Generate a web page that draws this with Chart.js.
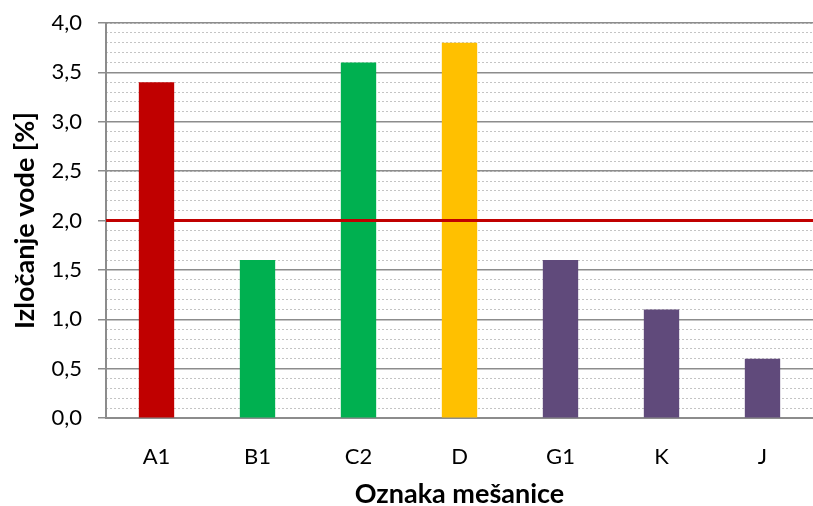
<!DOCTYPE html>
<html>
<head>
<meta charset="utf-8">
<script src="https://cdn.jsdelivr.net/npm/chart.js@4/dist/chart.umd.min.js"></script>
<style>
  html, body { margin: 0; padding: 0; background: #fff; }
  #wrap { width: 813px; height: 506px; }
</style>
</head>
<body>
<div id="wrap"><canvas id="chart"></canvas></div>
<script>
const labels = ['A1', 'B1', 'C2', 'D', 'G1', 'K', 'J'];
const values = [3.4, 1.6, 3.6, 3.8, 1.6, 1.1, 0.6];
const barColors = ['#C00000', '#00B050', '#00B050', '#FFC000', '#604A7B', '#604A7B', '#604A7B'];
const limitValue = 2.0;

// red limit line across the whole plot
const limitLine = {
  id: 'limitLine',
  afterDatasetsDraw(chart) {
    const { ctx, chartArea, scales } = chart;
    const y = scales.y.getPixelForValue(limitValue);
    ctx.save();
    ctx.strokeStyle = '#C00000';
    ctx.lineWidth = 3;
    ctx.beginPath();
    ctx.moveTo(chartArea.left, y);
    ctx.lineTo(chartArea.right, y);
    ctx.stroke();
    ctx.restore();
  }
};

const font = 'Lato';

new Chart(document.getElementById('chart'), {
  type: 'bar',
  data: {
    labels,
    datasets: [{
      data: values,
      backgroundColor: barColors,
      barPercentage: 0.35,
      categoryPercentage: 1
    }]
  },
  options: {
    responsive: true,
    maintainAspectRatio: false,
    animation: false,
    layout: { padding: { top: 23, right: 0, left: 12, bottom: 0 } },
    plugins: {
      legend: { display: false },
      tooltip: { enabled: false }
    },
    scales: {
      x: {
        grid: { display: false },
        border: { color: '#8c8c8c', width: 2 },
        ticks: { color: '#000', font: { family: font, size: 22 }, padding: 18 },
        title: {
          display: true,
          text: 'Oznaka mešanice',
          color: '#000',
          font: { family: font, size: 27, weight: 'bold', lineHeight: 1 },
          padding: { top: 8, bottom: -2 }
        },
        afterFit: s => { s.height = 88; s.paddingLeft = 0; s.paddingRight = 0; }
      },
      yMinor: {
        position: 'left',
        min: 0,
        max: 4,
        ticks: { display: false, stepSize: 0.1 },
        grid: { color: '#c4c4c4', lineWidth: 1, drawTicks: false },
        border: { display: false, dash: [2, 2] },
        afterFit: s => { s.width = 0; s.paddingTop = 0; s.paddingBottom = 0; }
      },
      y: {
        position: 'left',
        min: 0,
        max: 4,
        ticks: {
          stepSize: 0.5,
          color: '#000',
          font: { family: font, size: 22 },
          padding: 16,
          callback: v => v.toFixed(1).replace('.', ',')
        },
        grid: { color: '#8c8c8c', lineWidth: 1.5, tickLength: 8 },
        border: { color: '#8c8c8c', width: 2 },
        title: {
          display: true,
          text: 'Izločanje vode [%]',
          color: '#000',
          font: { family: font, size: 27, weight: 'bold', lineHeight: 1 },
          padding: { top: 0, bottom: 0 }
        },
        afterFit: s => { s.width = 94; s.paddingTop = 0; s.paddingBottom = 0; }
      }
    }
  },
  plugins: [limitLine]
});
</script>
</body>
</html>
